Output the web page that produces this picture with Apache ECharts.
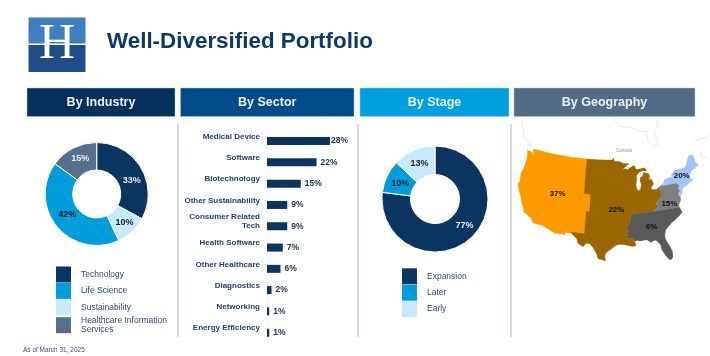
<!DOCTYPE html>
<html>
<head>
<meta charset="utf-8">
<title>Well-Diversified Portfolio</title>
<style>
html, body { margin: 0; padding: 0; background: #fff; }
#chart { width: 710px; height: 356px; }
</style>
<script src="https://cdn.jsdelivr.net/npm/echarts@6/dist/echarts.min.js"></script>
</head>
<body>
<div id="chart"></div>
<script>
var FONT = '"Liberation Sans", Arial, sans-serif';
var DARK = '#0a3560', MID = '#009ddc', LIGHT = '#c6e9fb', SLATE = '#566f8c';

// 图表数据
var industryNames = ['Technology', 'Life Science', 'Sustainability', 'Healthcare Information\nServices'];
var industryValues = [33, 42, 10, 15];
var stageNames = ['Expansion', 'Later', 'Early'];
var stageValues = [77, 10, 13];
var sectorNames = ['Medical Device', 'Software', 'Biotechnology', 'Other Sustainability', 'Consumer Related\nTech',
    'Health Software', 'Other Healthcare', 'Diagnostics', 'Networking', 'Energy Efficiency'];
var sectorValues = [28, 22, 15, 9, 9, 7, 6, 2, 1, 1];
var geoNames = ['West', 'Central', 'Northeast', 'Mid-Atlantic', 'Southeast'];
var geoValues = [37, 22, 20, 15, 6];
var geoColors = ['#ff9900', '#996600', '#a4c2f4', '#7f7f7f', '#595959'];
var geoLabelAnchors = [[-112, 40.3], [-94.2, 37.6], [-73.2, 43.3], [-78.6, 37.8], [-84.6, 33.2]];

// 区域轮廓 (经度, 纬度)
var westOutline = [[-104.05,49],[-110,49],[-116,49],[-122.8,49],[-122.5,48.2],[-122.4,47.4],[-123,48.2],[-124.7,48.4],[-124.1,46.9],[-124,46.2],[-124.1,44],[-124.5,42.8],[-124.2,41.8],[-124.1,40.9],[-124.4,40.4],[-123.8,39.3],[-122.9,38.2],[-122.5,37.7],[-121.9,36.6],[-120.7,35.2],[-120.6,34.6],[-119.2,34.1],[-118.4,33.8],[-117.2,32.6],[-114.7,32.6],[-111.1,31.33],[-108.2,31.33],[-108.2,31.8],[-106.6,31.8],[-106.6,32],[-103.05,32],[-103,37],[-102.05,37],[-102.05,41],[-104.05,41]];
var centralOutline = [[-104.05,49],[-100,49],[-97.2,49],[-95.15,49],[-95.15,49.4],[-94.8,49.3],[-94.6,48.7],[-93,48.6],[-91.5,48.1],[-89.6,48],[-92,46.7],[-90.8,46.9],[-90.4,46.6],[-88.4,47.4],[-87.9,47.47],[-87.4,46.5],[-86,46.6],[-85,46.75],[-84.4,46.5],[-84,46],[-84.7,45.95],[-85.5,46.05],[-86.5,45.8],[-87.6,45.1],[-88,44.55],[-87.4,45.2],[-87.5,44.2],[-87.9,43],[-87.8,42.3],[-87.5,41.7],[-87,41.7],[-86.5,42.1],[-86.2,43],[-86.5,43.9],[-86.2,44.7],[-85.6,44.8],[-85,45.7],[-84.7,45.75],[-83.4,45.2],[-83.3,44.3],[-83.9,43.8],[-82.9,44.05],[-82.4,43],[-82.5,42.6],[-83.1,42.2],[-83.4,41.7],[-82.7,41.5],[-81.7,41.5],[-80.52,41.98],[-80.52,40.64],[-80.7,39.7],[-81.7,39],[-82.6,38.4],[-82,37.5],[-83.7,36.6],[-89.5,36.5],[-90.1,36],[-90.3,35],[-91,33.9],[-91.2,33],[-91,32.5],[-91.6,31],[-89.7,31],[-89.5,30.2],[-89.4,30],[-89.2,29.2],[-90.1,29.1],[-91.3,29.4],[-92.2,29.6],[-93.8,29.7],[-94.7,29.4],[-95.9,28.6],[-97.1,27.8],[-97.4,26.9],[-97.15,25.95],[-99.1,26.4],[-99.5,27.5],[-100.5,28.9],[-101.4,29.77],[-102.4,29.8],[-103.1,29],[-104.5,29.6],[-105,30.7],[-106.5,31.75],[-106.6,32],[-103.05,32],[-103,37],[-102.05,37],[-102.05,41],[-104.05,41]];
var northeastOutline = [[-79.76,42.27],[-78.9,42.9],[-79,43.27],[-76.8,43.63],[-76.2,43.55],[-76.3,44.2],[-75,45],[-71.5,45],[-71.1,45.3],[-70.4,46.2],[-70,46.7],[-69.2,47.45],[-68.3,47.35],[-67.8,47.07],[-67.8,45.7],[-67,44.85],[-68.5,44.3],[-70,43.8],[-70.7,43],[-70.8,42.3],[-70,42],[-70.6,41.6],[-71.4,41.45],[-72,41.1],[-73.9,40.55],[-74,40.5],[-74.1,39.7],[-74.9,38.95],[-75.5,39.5],[-75.4,39.8],[-74.7,40.2],[-75.2,40.6],[-75.1,40.95],[-74.7,41.35],[-75.35,42],[-79.76,42]];
var midAtlanticOutline = [[-80.52,41.98],[-79.76,42.27],[-79.76,42],[-75.35,42],[-74.7,41.35],[-75.1,40.95],[-75.2,40.6],[-74.7,40.2],[-75.4,39.8],[-75.5,39.5],[-75.1,38.8],[-75.05,38.45],[-75.2,38],[-75.95,37.15],[-76,36.55],[-75.9,36.55],[-81.68,36.59],[-83.7,36.6],[-82,37.5],[-82.6,38.4],[-81.7,39],[-80.7,39.7],[-80.52,40.64]];
var southeastOutline = [[-89.5,36.5],[-83.7,36.6],[-81.68,36.59],[-75.9,36.55],[-75.5,35.25],[-76.5,34.65],[-77.9,33.9],[-79,33.4],[-80.9,32],[-81.4,30.7],[-81.3,29.8],[-80.55,28.4],[-80.05,26.9],[-80.15,25.7],[-80.5,25.2],[-81.1,25.15],[-81.8,26.1],[-82.7,27.7],[-82.8,28.8],[-83.7,29.9],[-84.2,30.05],[-85.3,29.7],[-86.3,30.4],[-88,30.25],[-88.9,30.4],[-89.5,30.2],[-89.7,31],[-91.6,31],[-91,32.5],[-91.2,33],[-91,33.9],[-90.3,35],[-90.1,36]];
var geoOutlines = [westOutline, centralOutline, northeastOutline, midAtlanticOutline, southeastOutline];

// 加拿大海岸线
var canadaCoasts = [
    [[-123.2,49.3],[-125,50.1],[-127.3,50.9],[-127.9,52],[-129,53.2],[-130,54.4]],
    [[-94.8,59],[-92.5,57],[-88,56.5],[-85,55.3],[-82.3,55.1],[-82.2,53],[-80.5,51.3],[-79,51.5],[-78.8,52.5],[-79.5,54.5],[-77.5,56],[-77.8,57.5]],
    [[-66,50.2],[-61,50.2],[-59,50.8]],
    [[-64.8,47.8],[-65.5,46.3],[-64,46],[-66,45.2]]
];

// 中部的州界，颜色很淡
var stateLines = [
    [[-104.05,45.94],[-100,45.94],[-96.56,45.94]],
    [[-104.05,43],[-100,43],[-98.5,43],[-96.5,42.5]],
    [[-102.05,40],[-98,40],[-95.3,40]],
    [[-102.05,37],[-98,37],[-94.6,37],[-94.6,36.5],[-90.1,36.5]],
    [[-96.56,45.94],[-96.5,42.5],[-95.3,40],[-94.6,39],[-94.6,36.5],[-94.5,33.6],[-94,33.5],[-94,29.8]],
    [[-94.5,33.6],[-97,33.8],[-100,34.5],[-100,36.5],[-103,36.5]],
    [[-91.2,43.5],[-96.5,43.5]],
    [[-91.2,43.5],[-92.8,45.5],[-92,46.7]],
    [[-91.2,43.5],[-90.6,42.5],[-91.4,40.6],[-89.5,37],[-89.5,36.5]],
    [[-90.6,42.5],[-87.8,42.5]],
    [[-87.5,41.7],[-87.5,39],[-88,37.8],[-89.2,37]],
    [[-84.8,41.7],[-84.8,39.1]],
    [[-87,41.75],[-83.4,41.7]],
    [[-94,33],[-91.2,33]],
    [[-88,37.8],[-86,38],[-84.8,39.1],[-82.6,38.4]]
];

// Albers 等积圆锥投影
var RAD = Math.PI / 180;
var albersN = (Math.sin(29.5 * RAD) + Math.sin(45.5 * RAD)) / 2;
var albersC = Math.pow(Math.cos(29.5 * RAD), 2) + 2 * albersN * Math.sin(29.5 * RAD);
var albersR0 = Math.sqrt(albersC - 2 * albersN * Math.sin(37.5 * RAD)) / albersN;
var albers = {
    project: function (p) {
        var r = Math.sqrt(albersC - 2 * albersN * Math.sin(p[1] * RAD)) / albersN;
        var a = albersN * (p[0] + 96) * RAD;
        return [r * Math.sin(a), r * Math.cos(a) - albersR0];
    },
    unproject: function (xy) {
        var y = albersR0 + xy[1];
        var r = Math.sqrt(xy[0] * xy[0] + y * y);
        var a = Math.atan2(xy[0], y);
        return [a / albersN / RAD - 96, Math.asin((albersC - r * r * albersN * albersN) / (2 * albersN)) / RAD];
    }
};

var features = [];
for (var i = 0; i < geoNames.length; i++) {
    features.push({
        type: 'Feature',
        properties: { name: geoNames[i], cp: geoLabelAnchors[i] },
        geometry: { type: 'Polygon', coordinates: [geoOutlines[i]] }
    });
}
features.push({
    type: 'Feature',
    properties: { name: 'Canada' },
    geometry: { type: 'MultiLineString', coordinates: canadaCoasts }
});
features.push({
    type: 'Feature',
    properties: { name: 'States' },
    geometry: { type: 'MultiLineString', coordinates: stateLines }
});
echarts.registerMap('usRegions', { type: 'FeatureCollection', features: features });

function pieData(names, values, colors, labelColors, labelOffsets) {
    var out = [];
    for (var i = 0; i < names.length; i++) {
        out.push({
            name: names[i],
            value: values[i],
            itemStyle: { color: colors[i] },
            label: { color: labelColors[i], offset: labelOffsets[i] }
        });
    }
    return out;
}

function pieSeries(center, radius, data) {
    return {
        type: 'pie',
        center: center,
        radius: radius,
        startAngle: 90,
        clockwise: true,
        data: data,
        itemStyle: { borderColor: '#fff', borderWidth: 1 },
        label: {
            position: 'inside',
            formatter: '{c}%',
            fontFamily: FONT,
            fontSize: 9,
            fontWeight: 'bold'
        },
        labelLine: { show: false },
        emphasis: { disabled: true }
    };
}

function pieLegend(names, left, top) {
    return {
        orient: 'vertical',
        left: left,
        top: top,
        padding: 0,
        data: names,
        icon: 'rect',
        itemWidth: 15,
        itemHeight: 16,
        itemGap: 0.4,
        selectedMode: false,
        itemStyle: { borderWidth: 0 },
        textStyle: { color: '#2b4b6f', fontFamily: FONT, fontSize: 8.5, lineHeight: 9.5, padding: [0, 0, 0, 5] }
    };
}

function header(x, width, color, text) {
    return [
        { type: 'rect', shape: { x: x, y: 88, width: width, height: 28.5 }, style: { fill: color, stroke: '#a9c6dc', lineWidth: 0.5 } },
        { type: 'text', style: { x: x + width / 2, y: 102.5, text: text, fill: '#e8f1f8', font: 'bold 12.5px ' + FONT, textAlign: 'center', textVerticalAlign: 'middle' } }
    ];
}

function divider(x) {
    return { type: 'line', shape: { x1: x, y1: 124, x2: x, y2: 337 }, style: { stroke: '#afc3d3', lineWidth: 1.2 } };
}

var graphics = [
    { type: 'rect', shape: { x: 28.5, y: 17.5, width: 57, height: 26 }, style: { fill: '#3d7fc1' } },
    { type: 'rect', shape: { x: 28.5, y: 45, width: 57, height: 27 }, style: { fill: '#1f4d87' } },
    { type: 'text', style: { x: 57, y: 44.5, text: 'H', fill: '#fff', font: '50px "Liberation Serif", serif', textAlign: 'center', textVerticalAlign: 'middle' } },
    { type: 'text', style: { x: 107, y: 41.5, text: 'Well-Diversified Portfolio', fill: '#0b3a69', font: 'bold 22.4px ' + FONT, textVerticalAlign: 'middle' } },
    { type: 'text', style: { x: 23, y: 350, text: 'As of March 31, 2025', fill: '#3b5573', font: '6.5px ' + FONT, textVerticalAlign: 'middle' } },
    { type: 'text', style: { x: 624, y: 151, text: 'Canada', fill: '#9a9a9a', font: '4.5px ' + FONT, textAlign: 'center', textVerticalAlign: 'middle' } },
    divider(178), divider(358), divider(511)
].concat(
    header(27, 148, '#04305c', 'By Industry'),
    header(180.5, 173.5, '#004b88', 'By Sector'),
    header(360, 149, '#00a0dc', 'By Stage'),
    header(514, 181, '#526c86', 'By Geography')
);

var geoData = [];
for (var g = 0; g < geoNames.length; g++) {
    geoData.push({ name: geoNames[g], value: geoValues[g], itemStyle: { areaColor: geoColors[g], borderColor: geoColors[g], borderWidth: 0.3 } });
}
geoData.push({ name: 'States', itemStyle: { areaColor: 'none', borderColor: '#a3701a', borderWidth: 0.4 } });

var barData = [];
for (var b = 0; b < sectorValues.length; b++) {
    barData.push(b === 0 ? { value: sectorValues[b], label: { distance: 1 } } : sectorValues[b]);
}

var myChart = echarts.init(document.getElementById('chart'), null, { renderer: 'canvas' });
var option = {
    animation: false,
    backgroundColor: '#fff',
    graphic: { elements: graphics },
    legend: [pieLegend(industryNames, 56, 266.5), pieLegend(stageNames, 402, 268.3)],
    grid: { left: 267, top: 130.4, width: 90, height: 213 },
    xAxis: { type: 'value', min: 0, max: 40, show: false },
    yAxis: {
        type: 'category',
        inverse: true,
        data: sectorNames,
        axisTick: { show: false },
        axisLine: { lineStyle: { color: '#e4edf3', width: 0.5 } },
        axisLabel: {
            margin: 7,
            color: '#22436b',
            fontFamily: FONT,
            fontSize: 8,
            lineHeight: 9,
            fontWeight: 'bold',
            interval: 0,
            // 多加一个空行，让文字比柱子略高
            formatter: function (v) { return v + '\n '; }
        }
    },
    series: [
        pieSeries([96.7, 194], [24, 51.5], pieData(
            ['Technology', 'Sustainability', 'Life Science', 'Healthcare Information\nServices'],
            [industryValues[0], industryValues[2], industryValues[1], industryValues[3]],
            [DARK, LIGHT, MID, SLATE],
            ['#dcebf5', '#14202c', '#14202c', '#e8eef3'],
            [[0, 7], [0, -1], [2, -5], [2, 1]])),
        pieSeries([435, 199], [24.5, 53], pieData(
            stageNames, stageValues, [DARK, MID, LIGHT], ['#e8f1f8', '#14202c', '#14202c'],
            [[2, -5], [3, 2], [1, 3]])),
        {
            type: 'bar',
            data: barData,
            barWidth: 8,
            itemStyle: { color: DARK },
            label: {
                show: true,
                position: 'right',
                distance: 4,
                formatter: '{c}%',
                color: '#22364e',
                fontFamily: FONT,
                fontSize: 8.5,
                fontWeight: 'bold'
            }
        },
        {
            type: 'map',
            map: 'usRegions',
            projection: albers,
            layoutCenter: [615, 189.5],
            layoutSize: 194,
            roam: false,
            silent: true,
            showLegendSymbol: false,
            data: geoData,
            itemStyle: { areaColor: 'transparent', borderColor: '#c4c4c4', borderWidth: 0.4 },
            label: {
                show: true,
                formatter: function (p) { return isNaN(p.value) ? '' : p.value + '%'; },
                color: '#111',
                fontFamily: FONT,
                fontSize: 8,
                fontWeight: 'bold'
            }
        }
    ]
};
myChart.setOption(option);
</script>
</body>
</html>
